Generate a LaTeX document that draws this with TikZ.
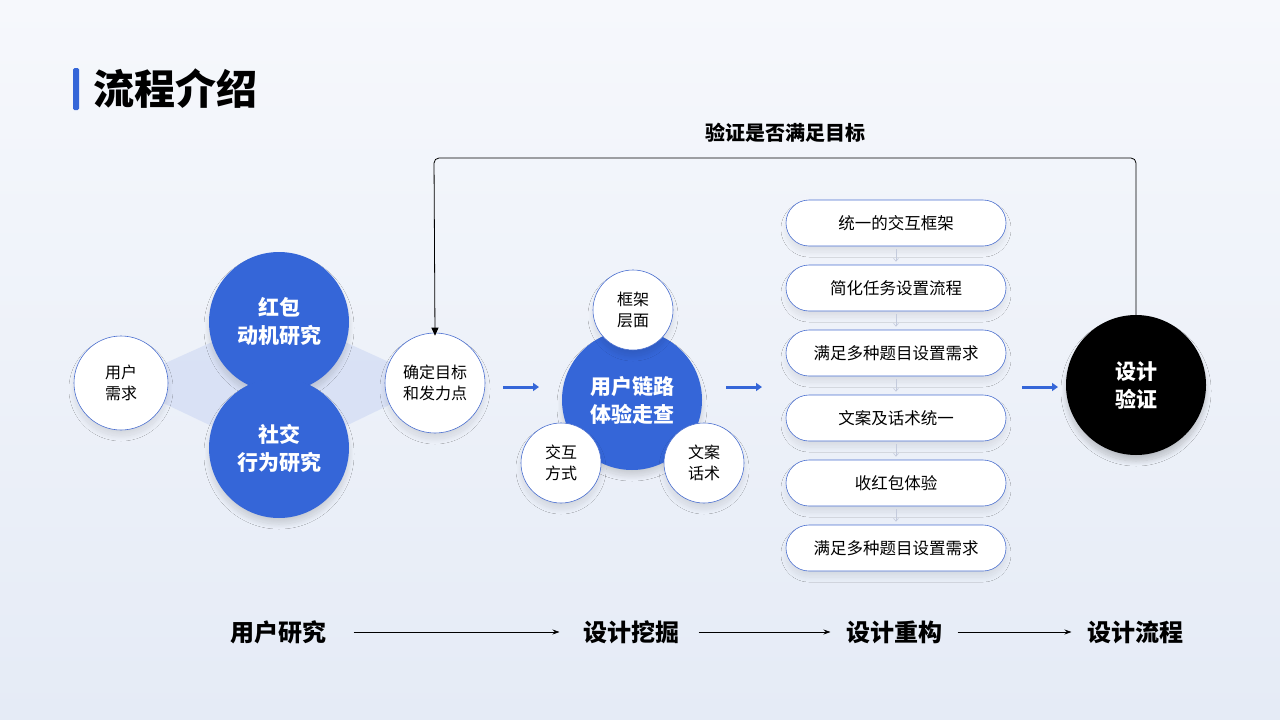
\documentclass[tikz,border=0pt]{standalone}
\usepackage{fontspec}
\setmainfont{Noto Sans CJK SC}
\usetikzlibrary{arrows.meta,shadows.blur}
\definecolor{mblue}{HTML}{3566D8}
\definecolor{bgtop}{HTML}{F6F8FC}
\definecolor{bgbot}{HTML}{E5EBF6}
\definecolor{edgeb}{HTML}{4A6FD0}
\definecolor{diam}{HTML}{D5DEF5}
\begin{document}
\begin{tikzpicture}[x=1pt,y=-1pt,
  sh/.style={blur shadow={shadow xshift=0pt,shadow yshift=-6pt,shadow opacity=#1,shadow blur radius=5pt,shadow blur steps=20}},
  wc/.style={circle,fill=white,draw=edgeb,line width=0.6pt,minimum size=#1,inner sep=0pt,align=center,font=\fontsize{16}{21}\selectfont,sh=10},
  bc/.style={circle,fill=mblue,minimum size=140pt,inner sep=0pt,align=center,text=white,font=\fontsize{21}{28}\selectfont\bfseries,sh=14},
  pill/.style={rounded corners=23pt,fill=white,draw=edgeb,line width=0.6pt,minimum width=220pt,minimum height=46pt,inner sep=0pt,font=\fontsize{16.5}{20}\selectfont,sh=8},
  barr/.style={-{Triangle[length=6pt,width=8pt]},mblue,line width=3pt},
  sarr/.style={-{Straight Barb[length=3pt,width=5pt]},draw=diam!80!gray,line width=0.6pt},
  larr/.style={-{Stealth[length=7pt,width=5pt]},black,line width=0.8pt},
  stage/.style={font=\fontsize{24}{28}\selectfont\bfseries}]
\shade[top color=bgtop,bottom color=bgbot] (0,0) rectangle (1280,720);
\useasboundingbox (0,0) rectangle (1280,720);
\fill[mblue,rounded corners=1.5pt] (73,68) rectangle (79,110);
\node[anchor=west,font=\fontsize{41}{45}\selectfont\bfseries] (title) at (90,89) {流程介绍};
% diamond underlay
\fill[diam,opacity=0.8] (121,383) -- (279,312) -- (435,383) -- (279,458) -- cycle;
\node[wc=94pt] (need) at (121,383) {用户\\需求};
\node[bc] (hb) at (279,322) {红包\\动机研究};
\node[bc] (sj) at (279,448) {社交\\行为研究};
\node[wc=100pt] (goal) at (435,383) {确定目标\\和发力点};
\coordinate (a1s) at (503,387); \coordinate (a1e) at (539,387);
\draw[barr] (a1s) -- (a1e);
\node[bc] (ul) at (632,400) {用户链路\\体验走查};
\node[wc=80pt] (kj) at (633,310) {框架\\层面};
\node[wc=80pt] (jh) at (561,463) {交互\\方式};
\node[wc=80pt] (wa) at (704,463) {文案\\话术};
\coordinate (a2s) at (726,387); \coordinate (a2e) at (762,387);
\draw[barr] (a2s) -- (a2e);
\node[pill] (p1) at (896,223) {统一的交互框架};
\node[pill] (p2) at (896,288) {简化任务设置流程};
\node[pill] (p3) at (896,353) {满足多种题目设置需求};
\node[pill] (p4) at (896,418) {文案及话术统一};
\node[pill] (p5) at (896,483) {收红包体验};
\node[pill] (p6) at (896,548) {满足多种题目设置需求};
\foreach \a/\b in {p1/p2,p2/p3,p3/p4,p4/p5,p5/p6}{\draw[sarr] ([yshift=-3pt]\a.south) -- ([yshift=3pt]\b.north);}
\coordinate (a3s) at (1022,387); \coordinate (a3e) at (1058,387);
\draw[barr] (a3s) -- (a3e);
\node[circle,fill=black,minimum size=140pt,inner sep=0pt,align=center,text=white,font=\fontsize{21}{28}\selectfont\bfseries,sh=20] (dv) at (1136,385) {设计\\验证};
\draw[-{Triangle[length=8pt,width=7pt]},black,line width=0.8pt,rounded corners=5pt] (dv.north) -- (1136,158) -- (434,158) -- ([yshift=-3pt]goal.north);
\node[font=\fontsize{20}{24}\selectfont\bfseries] (vlab) at (785,133) {验证是否满足目标};
\node[stage] (s1) at (278,632) {用户研究};
\node[stage] (s2) at (631,632) {设计挖掘};
\node[stage] (s3) at (894,632) {设计重构};
\node[stage] (s4) at (1135,632) {设计流程};
\draw[larr] ([xshift=24pt]s1.east) -- ([xshift=-20pt]s2.west);
\draw[larr] ([xshift=16pt]s2.east) -- ([xshift=-12pt]s3.west);
\draw[larr] ([xshift=12pt]s3.east) -- ([xshift=-12pt]s4.west);
\end{tikzpicture}
\end{document}
